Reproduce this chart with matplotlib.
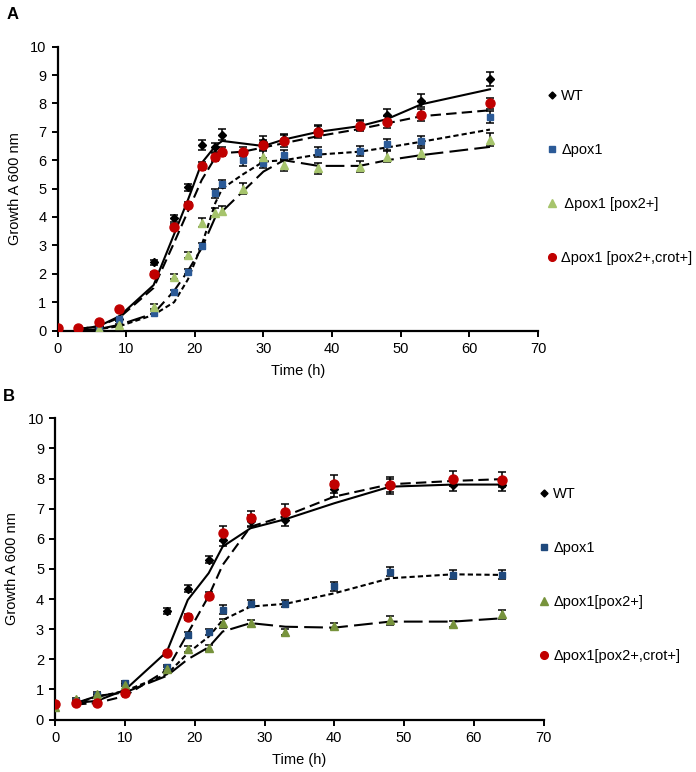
import numpy as np
import matplotlib
matplotlib.use("Agg")
import matplotlib.pyplot as plt
from matplotlib.lines import Line2D

plt.rcParams['font.family'] = ['Liberation Sans', 'DejaVu Sans']

# ---- panel A data ----
tA = [0, 3, 6, 9, 14, 17, 19, 21, 23, 24, 27, 30, 33, 38, 44, 48, 53, 63]
wtA = [0.05, 0.05, 0.15, 0.4, 2.4, 3.95, 5.05, 6.55, 6.45, 6.9, np.nan, 6.65, 6.75, 7.05, 7.25, 7.6, 8.1, 8.85]
p1A = [0.02, 0.02, 0.05, 0.39, 0.63, 1.35, 2.07, 2.98, 4.83, 5.16, 6.0, 5.89, 6.18, 6.3, 6.32, 6.56, 6.68, 7.53]
p2A = [0.0, 0.02, 0.04, 0.19, 0.84, 1.9, 2.66, 3.8, 4.15, 4.22, 5.0, 6.12, 5.83, 5.71, 5.77, 6.12, 6.24, 6.73]
crA = [0.08, 0.1, 0.31, 0.76, 1.99, 3.66, 4.42, 5.8, 6.12, 6.3, 6.3, 6.53, 6.68, 7.0, 7.2, 7.35, 7.59, 8.0]
wtA_err = [0.02, 0.02, 0.03, 0.05, 0.1, 0.12, 0.12, 0.18, 0.15, 0.2, np.nan, 0.2, 0.18, 0.2, 0.18, 0.22, 0.22, 0.25]
p1A_err = [0.02, 0.02, 0.02, 0.05, 0.05, 0.08, 0.08, 0.1, 0.15, 0.15, 0.2, 0.18, 0.18, 0.18, 0.18, 0.2, 0.18, 0.22]
p2A_err = [0.02, 0.02, 0.02, 0.04, 0.08, 0.1, 0.12, 0.15, 0.15, 0.15, 0.18, 0.2, 0.2, 0.2, 0.2, 0.2, 0.2, 0.22]
crA_err = [0.02, 0.02, 0.03, 0.05, 0.08, 0.1, 0.1, 0.15, 0.15, 0.15, 0.15, 0.18, 0.2, 0.2, 0.18, 0.2, 0.2, 0.2]
# trend lines
wtA_fit = [np.nan, 0.05, 0.15, 0.5, 1.6, 3.4, 4.6, 5.9, 6.5, 6.68, 6.59, 6.5, 6.73, 7.0, 7.2, 7.45, 7.97, 8.5]
p1A_fit = [np.nan, 0.0, 0.05, 0.15, 0.55, 1.0, 1.8, 3.0, 4.5, 5.0, 5.5, 5.95, 6.0, 6.2, 6.3, 6.45, 6.65, 7.08]
p2A_fit = [np.nan, 0.0, 0.05, 0.2, 0.6, 1.4, 2.1, 2.9, 4.0, 4.2, 4.9, 5.6, 6.0, 5.8, 5.8, 6.0, 6.18, 6.47]
crA_fit = [np.nan, 0.05, 0.15, 0.45, 1.5, 3.1, 4.2, 5.3, 6.1, 6.25, 6.3, 6.45, 6.6, 6.85, 7.1, 7.3, 7.55, 7.76]

# ---- panel B data ----
tB = [0, 3, 6, 10, 16, 19, 22, 24, 28, 33, 40, 48, 57, 64]
wtB = [0.5, 0.55, 0.6, 0.9, 3.6, 4.34, 5.3, 5.96, 6.6, 6.63, 7.65, 7.75, 7.8, 7.8]
p1B = [0.5, 0.6, 0.8, 1.22, 1.73, 2.8, 2.92, 3.64, 3.84, 3.84, 4.43, 4.9, 4.8, 4.8]
p2B = [0.43, 0.67, 0.85, 1.15, 1.67, 2.33, 2.37, 3.2, 3.2, 2.92, 3.1, 3.3, 3.17, 3.5]
crB = [0.51, 0.56, 0.56, 0.87, 2.2, 3.4, 4.11, 6.19, 6.68, 6.9, 7.81, 7.8, 8.0, 7.96]
wtB_err = [0.03, 0.03, 0.03, 0.05, 0.1, 0.12, 0.12, 0.2, 0.2, 0.2, 0.25, 0.25, 0.2, 0.2]
p1B_err = [0.03, 0.03, 0.05, 0.05, 0.08, 0.1, 0.1, 0.15, 0.12, 0.12, 0.15, 0.15, 0.15, 0.15]
p2B_err = [0.03, 0.03, 0.05, 0.05, 0.08, 0.1, 0.1, 0.15, 0.12, 0.1, 0.1, 0.15, 0.1, 0.15]
crB_err = [0.03, 0.03, 0.03, 0.05, 0.08, 0.1, 0.12, 0.25, 0.25, 0.25, 0.3, 0.25, 0.25, 0.25]
wtB_fit = [np.nan, 0.55, 0.62, 0.98, 2.25, 3.97, 4.86, 5.74, 6.35, 6.65, 7.18, 7.73, 7.8, 7.8]
p1B_fit = [np.nan, 0.55, 0.75, 0.95, 1.5, 2.2, 2.75, 3.3, 3.75, 3.84, 4.19, 4.69, 4.82, 4.8]
p2B_fit = [np.nan, 0.55, 0.78, 0.9, 1.45, 2.0, 2.4, 2.92, 3.2, 3.08, 3.05, 3.25, 3.25, 3.36]
crB_fit = [np.nan, 0.5, 0.55, 0.78, 1.64, 2.86, 4.1, 5.13, 6.4, 6.76, 7.4, 7.81, 7.92, 7.98]

labelsA = ['WT', '\u0394pox1', ' \u0394pox1 [pox2+]', '\u0394pox1 [pox2+,crot+]']
labelsB = ['WT', '\u0394pox1', '\u0394pox1[pox2+]', '\u0394pox1[pox2+,crot+]']

W, H = 696, 772
fig = plt.figure(figsize=(W / 100, H / 100), dpi=100)


def px_axes(l, r, t, b):
    return fig.add_axes([l / W, 1 - b / H, (r - l) / W, (b - t) / H])


FS = 10.5


def panel(ax, t, series, errs, fits, styles, labels, leg_xy, greencol, bluecol):
    marks = [('D', 'black', 4.2), ('s', bluecol, 4.8), ('^', greencol, 6), ('o', '#C00000', 6.5)]
    # lines first, then points on top
    for f, ls in zip(fits, styles):
        ax.plot(t, f, color='black', lw=1.5, linestyle=ls, zorder=2)
    handles = []
    for y, e, (m, c, ms), lab in zip(series, errs, marks, labels):
        ax.errorbar(t, y, yerr=e, fmt=m, color=c, ms=ms, mec=c, ecolor='black',
                    elinewidth=1.1, capsize=2.8, capthick=1.1, zorder=3)
        handles.append(Line2D([], [], marker=m, color=c, linestyle='none', ms=ms * 0.85, label=lab))
    ax.set_xlim(0, 70)
    ax.set_ylim(0, 10)
    ax.set_xticks(range(0, 71, 10))
    ax.set_yticks(range(0, 11))
    ax.spines['top'].set_visible(False)
    ax.spines['right'].set_visible(False)
    for s in ['left', 'bottom']:
        ax.spines[s].set_linewidth(1.6)
    ax.tick_params(direction='out', length=4, width=1.4, labelsize=FS, pad=4)
    ax.set_xlabel('Time (h)', fontsize=FS, labelpad=6)
    ax.set_ylabel('Growth A 600 nm', fontsize=FS, labelpad=6)
    ax.legend(handles=handles, loc='upper left', bbox_to_anchor=(leg_xy[0] / W, 1 - leg_xy[1] / H),
              bbox_transform=fig.transFigure, frameon=False, fontsize=FS, labelspacing=2.75,
              handlelength=0.8, handletextpad=0.25, borderpad=0, borderaxespad=0)


# WT solid, pox1 short dash, pox2+ long dash, crot+ medium dash
styles = ['-', (0, (2.5, 1.5)), (0, (9, 3)), (0, (5, 2.5))]

axA = px_axes(57.5, 538, 46.7, 330.5)
panel(axA, tA, [wtA, p1A, p2A, crA], [wtA_err, p1A_err, p2A_err, crA_err],
      [wtA_fit, p1A_fit, p2A_fit, crA_fit], styles, labelsA, (546, 89), '#A6C46C', '#2B5A97')

axB = px_axes(55.2, 543.6, 418.3, 719.5)
panel(axB, tB, [wtB, p1B, p2B, crB], [wtB_err, p1B_err, p2B_err, crB_err],
      [wtB_fit, p1B_fit, p2B_fit, crB_fit], styles, labelsB, (538, 487), '#77933C', '#1F497D')

fig.text(7 / W, 1 - 7 / H, 'A', fontsize=12, fontweight='bold', va='top', ha='left')
fig.text(3 / W, 1 - 389 / H, 'B', fontsize=12, fontweight='bold', va='top', ha='left')

fig.savefig('out.png', dpi=100)
